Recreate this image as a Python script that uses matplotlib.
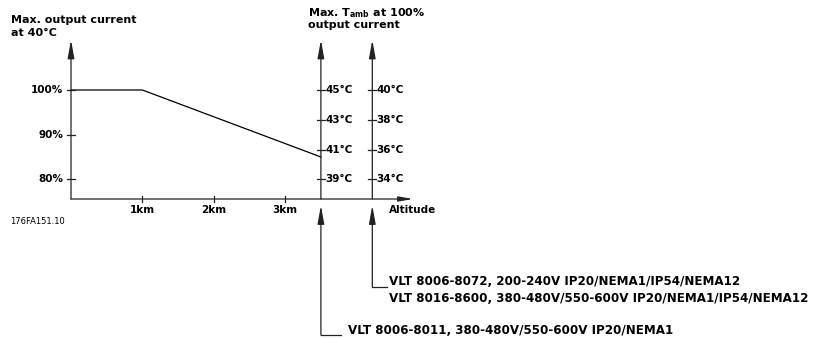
import matplotlib
matplotlib.use("Agg")
import matplotlib.pyplot as plt

# Derating curve: max. output current vs altitude
altitude_km = [0, 1, 3.5]
output_pct = [100, 100, 85]

pct_ticks = [80, 90, 100]
pct_labels = ["80%", "90%", "100%"]
km_ticks = [1, 2, 3]
km_labels = ["1km", "2km", "3km"]

# Max. ambient temperature at 100 % output current (two drive groups)
temp_a = [39, 41, 43, 45]
temp_b = [34, 36, 38, 40]
temp_axis_km = [3.5, 4.22]

group_a_text = ["VLT 8006-8011, 380-480V/550-600V IP20/NEMA1"]
group_b_text = ["VLT 8006-8072, 200-240V IP20/NEMA1/IP54/NEMA12",
                "VLT 8016-8600, 380-480V/550-600V IP20/NEMA1/IP54/NEMA12"]

W, H = 816, 338
# pixel layout of the drawing grid
X_ORIGIN, PX_PER_KM = 71.0, 71.4
Y80, PX_PER_PCT = 179.3, 4.465


def px(x, y):
    """Pixel position -> (km, %) data position."""
    return (x - X_ORIGIN) / PX_PER_KM, 80 + (Y80 - y) / PX_PER_PCT


def temp_to_pct(t, t_low):
    return 80 + (t - t_low) * 10.0 / 3.0


plt.rcParams["font.family"] = ["DejaVu Sans"]
fig = plt.figure(figsize=(W / 100, H / 100), dpi=100)
ax = fig.add_axes([0, 0, 1, 1])
x0, y0 = px(0, H)
x1, y1 = px(W, 0)
ax.set_xlim(x0, x1)
ax.set_ylim(y0, y1)
ax.axis("off")

LC = "#222222"
LW = 0.9
FS = 8
FS_TICK = 7.5
FW = "bold"

base = px(0, 199)[1]
ytop = px(0, 40)[1]
dkm = 1 / PX_PER_KM
dpct = 1 / PX_PER_PCT


def arrow(tip, start, hl=11, hw=2.0):
    ax.annotate("", xy=tip, xytext=start,
                arrowprops=dict(arrowstyle=f"-|>,head_length={hl},head_width={hw}",
                                mutation_scale=1, color=LC, lw=LW,
                                shrinkA=0, shrinkB=0))


# main axes
arrow((0, ytop), (0, base))
x_tip = px(413, 0)[0]
arrow((x_tip, base), (0, base), hl=8.5, hw=1.5)

# curve
ax.plot(altitude_km, output_pct, color="black", lw=LW, solid_joinstyle="miter")

# y ticks
for v, lab in zip(pct_ticks, pct_labels):
    ax.plot([-4 * dkm, 4 * dkm], [v, v], color=LC, lw=LW)
    ax.text(-8 * dkm, v, lab, ha="right", va="center", fontsize=FS_TICK, fontweight=FW)

# x ticks
for v, lab in zip(km_ticks, km_labels):
    ax.plot([v, v], [base - 3 * dpct, base + 3 * dpct], color=LC, lw=LW)
    ax.text(v, base - 11 * dpct, lab, ha="center", va="center", fontsize=FS_TICK, fontweight=FW)

# temperature axes
for xk, temps in zip(temp_axis_km, [temp_a, temp_b]):
    arrow((xk, ytop), (xk, base))
    for t in temps:
        yv = temp_to_pct(t, temps[0])
        ax.plot([xk - 4 * dkm, xk + 4 * dkm], [yv, yv], color=LC, lw=LW)
        ax.text(xk + 4.5 * dkm, yv, f"{t}°C", ha="left", va="center",
                fontsize=FS_TICK, fontweight=FW)

ax.text(*px(389, 210), "Altitude", ha="left", va="center", fontsize=FS_TICK, fontweight=FW)

# headings
ax.text(*px(11, 23.3), "Max. output current", ha="left", va="baseline",
        fontsize=FS, fontweight=FW)
ax.text(*px(11, 36), "at 40°C", ha="left", va="baseline",
        fontsize=FS, fontweight=FW)
ax.text(*px(308, 16), "Max. T$_{\\mathbf{amb}}$ at 100%", ha="left", va="baseline",
        fontsize=FS, fontweight=FW)
ax.text(*px(308, 28), "output current", ha="left", va="baseline",
        fontsize=FS, fontweight=FW)

ax.text(*px(10, 222), "176FA151.10", ha="left", va="center", fontsize=6)

# group pointers
y_tip = px(0, 205.5)[1]
for xk, y_end, stub, gap, lines in [(temp_axis_km[0], 335, 20, 7, group_a_text),
                                    (temp_axis_km[1], 286.7, 15, 2, group_b_text)]:
    ye = px(0, y_end)[1]
    arrow((xk, y_tip), (xk, ye))
    xe = xk + stub * dkm
    ax.plot([xk, xe], [ye, ye], color=LC, lw=LW)
    for i, line in enumerate(lines):
        ax.text(xe + gap * dkm, ye + (1.5 - 16.5 * i) * dpct, line, ha="left",
                va="baseline", fontsize=8.6, fontweight=FW)

fig.savefig("out.png", dpi=100)
